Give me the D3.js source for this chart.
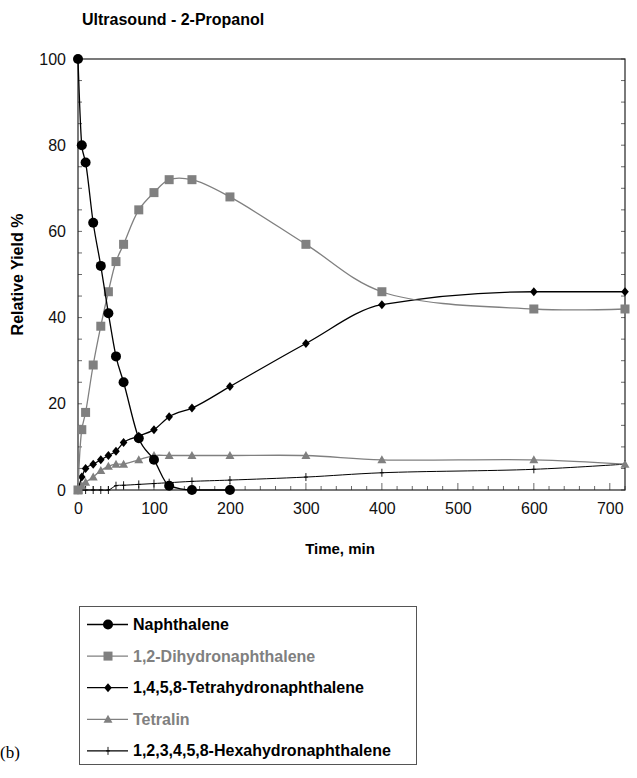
<!DOCTYPE html>
<html>
<head>
<meta charset="utf-8">
<script src="https://cdn.jsdelivr.net/npm/d3@7"></script>
<style>
  body { margin: 0; background: #fff; }
  svg { display: block; font-family: "Liberation Sans", Arial, sans-serif; }
</style>
</head>
<body>
<div id="chart"></div>
<script>
// the data
var times        = [0, 5, 10, 20, 30, 40, 50, 60, 80, 100, 120, 150, 200, 300, 400, 600, 720];
var naphthalene  = [100, 80, 76, 62, 52, 41, 31, 25, 12, 7, 1, 0, 0, null, null, null, null];
var dihydro      = [0, 14, 18, 29, 38, 46, 53, 57, 65, 69, 72, 72, 68, 57, 46, 42, 42];
var tetrahydro   = [0, 3, 5, 6, 7, 8, 9, 11, 12.5, 14, 17, 19, 24, 34, 43, 46, 46];
var tetralin     = [0, 1, 1.8, 3, 4.5, 5.5, 6, 6, 7, 8, 8, 8, 8, 8, 7, 7, 6];
var hexahydro    = [0, 0, 0, 0, 0, 0, 1, 1.1, 1.3, 1.5, 1.7, 2, 2.3, 3, 4, 4.8, 6];

var xTicks = [0, 100, 200, 300, 400, 500, 600, 700];
var yTicks = [0, 20, 40, 60, 80, 100];

var seriesNames = ["Naphthalene", "1,2-Dihydronaphthalene", "1,4,5,8-Tetrahydronaphthalene",
                   "Tetralin", "1,2,3,4,5,8-Hexahydronaphthalene"];
var seriesValues = [naphthalene, dihydro, tetrahydro, tetralin, hexahydro];
var seriesColors = ["#000", "#808080", "#000", "#808080", "#000"];
var seriesMarkers = ["circle", "square", "diamond", "triangle", "tick"];

var width = 637, height = 778;
var margin = {top: 59, left: 78, right: 12, bottom: 288};
var plotW = width - margin.left - margin.right,
    plotH = height - margin.top - margin.bottom;

var svg = d3.select("#chart").append("svg")
    .attr("width", width)
    .attr("height", height);

var x = d3.scaleLinear().domain([0, 720]).range([margin.left, margin.left + plotW]);
var y = d3.scaleLinear().domain([0, 100]).range([margin.top + plotH, margin.top]);

// title
svg.append("text")
    .attr("x", 82)
    .attr("y", 25)
    .style("font-size", "16px")
    .style("font-weight", "bold")
    .text("Ultrasound - 2-Propanol");

// minor ticks inside the frame
var g = svg.append("g");
d3.range(0, 101, 5).forEach(function(v) {
    g.append("line").attr("x1", x(0)).attr("x2", x(0) + 4).attr("y1", y(v)).attr("y2", y(v))
        .attr("stroke", "#444").attr("stroke-width", 0.8);
    g.append("line").attr("x1", x(720)).attr("x2", x(720) - 4).attr("y1", y(v)).attr("y2", y(v))
        .attr("stroke", "#444").attr("stroke-width", 0.8);
});
d3.range(0, 721, 20).forEach(function(v) {
    var len = (v % 100 === 0) ? 7 : 4;
    g.append("line").attr("x1", x(v)).attr("x2", x(v)).attr("y1", y(0)).attr("y2", y(0) - len)
        .attr("stroke", "#444").attr("stroke-width", 0.8);
});

// axes (labels only, frame drawn separately)
var xAxis = d3.axisBottom(x).tickValues(xTicks).tickSize(0).tickPadding(13);
var yAxis = d3.axisLeft(y).tickValues(yTicks).tickSize(0).tickPadding(12);

svg.append("g")
    .attr("class", "x axis")
    .attr("transform", "translate(0," + y(0) + ")")
    .call(xAxis)
    .call(function(a) { a.select(".domain").remove(); })
    .selectAll("text")
    .style("font-size", "16px")
    .style("font-family", "Liberation Sans, Arial, sans-serif")
    .attr("fill", "#111");

svg.append("g")
    .attr("class", "y axis")
    .attr("transform", "translate(" + x(0) + ",0)")
    .call(yAxis)
    .call(function(a) { a.select(".domain").remove(); })
    .selectAll("text")
    .style("font-size", "16px")
    .style("font-family", "Liberation Sans, Arial, sans-serif")
    .attr("fill", "#111");

// frame
svg.append("rect")
    .attr("x", x(0)).attr("y", y(100))
    .attr("width", x(720) - x(0)).attr("height", y(0) - y(100))
    .attr("fill", "none").attr("stroke", "#222").attr("stroke-width", 1.2);

// axis titles
svg.append("text")
    .attr("transform", "translate(23," + (margin.top + plotH / 2) + ") rotate(-90)")
    .style("text-anchor", "middle")
    .style("font-size", "16px")
    .style("font-weight", "bold")
    .text("Relative Yield %");

svg.append("text")
    .attr("x", 340)
    .attr("y", 554)
    .style("text-anchor", "middle")
    .style("font-size", "15px")
    .style("font-weight", "bold")
    .text("Time, min");

// marker drawing
function drawMarker(sel, type, color) {
    if (type === "circle") {
        sel.append("circle").attr("r", 5).attr("fill", color);
    } else if (type === "square") {
        sel.append("rect").attr("x", -4.5).attr("y", -4.5).attr("width", 9).attr("height", 9).attr("fill", color);
    } else if (type === "diamond") {
        sel.append("path").attr("d", "M0,-4.5L3.8,0L0,4.5L-3.8,0Z").attr("fill", color);
    } else if (type === "triangle") {
        sel.append("path").attr("d", "M0,-4.5L4.5,3.5L-4.5,3.5Z").attr("fill", color);
    } else if (type === "tick") {
        sel.append("path").attr("d", "M0,-4L0,4M-2,0L2,0").attr("stroke", color).attr("stroke-width", 0.9);
    }
}

var smooth = d3.line()
    .x(function(d) { return x(d.t); })
    .y(function(d) { return y(d.v); })
    .curve(d3.curveCatmullRom.alpha(0.5));

var mono = d3.line()
    .x(function(d) { return x(d.t); })
    .y(function(d) { return y(d.v); })
    .curve(d3.curveMonotoneX);

// draw series in reverse so naphthalene ends on top
[4, 3, 2, 1, 0].forEach(function(i) {
    var data = times.map(function(t, j) { return {t: t, v: seriesValues[i][j]}; })
        .filter(function(d) { return d.v !== null; });

    svg.append("path")
        .datum(data)
        .attr("fill", "none")
        .attr("stroke", seriesColors[i])
        .attr("stroke-width", i === 4 ? 1 : 1.3)
        .attr("d", (i === 2 || i === 0) ? mono : smooth);

    svg.selectAll(".m" + i)
        .data(data)
        .enter().append("g")
        .attr("class", "m" + i)
        .attr("transform", function(d) { return "translate(" + x(d.t) + "," + y(d.v) + ")"; })
        .each(function() { drawMarker(d3.select(this), seriesMarkers[i], seriesColors[i]); });
});

// legend
var legend = svg.append("g");
legend.append("rect")
    .attr("x", 79.5).attr("y", 606.5)
    .attr("width", 337).attr("height", 158)
    .attr("fill", "none").attr("stroke", "#555").attr("stroke-width", 1);

seriesNames.forEach(function(name, i) {
    var ly = 624.5 + i * 31.6;
    legend.append("line")
        .attr("x1", 87).attr("x2", 128).attr("y1", ly).attr("y2", ly)
        .attr("stroke", seriesColors[i]).attr("stroke-width", 1.3);
    var m = legend.append("g").attr("transform", "translate(108," + ly + ")");
    drawMarker(m, seriesMarkers[i], seriesColors[i]);
    legend.append("text")
        .attr("x", 133)
        .attr("y", ly + 5.5)
        .style("font-size", "16px")
        .style("font-weight", "bold")
        .attr("fill", seriesColors[i])
        .text(name);
});

svg.append("text")
    .attr("x", 0)
    .attr("y", 758)
    .style("font-family", "Liberation Serif, Times New Roman, serif")
    .style("font-size", "17px")
    .text("(b)");
</script>
</body>
</html>
